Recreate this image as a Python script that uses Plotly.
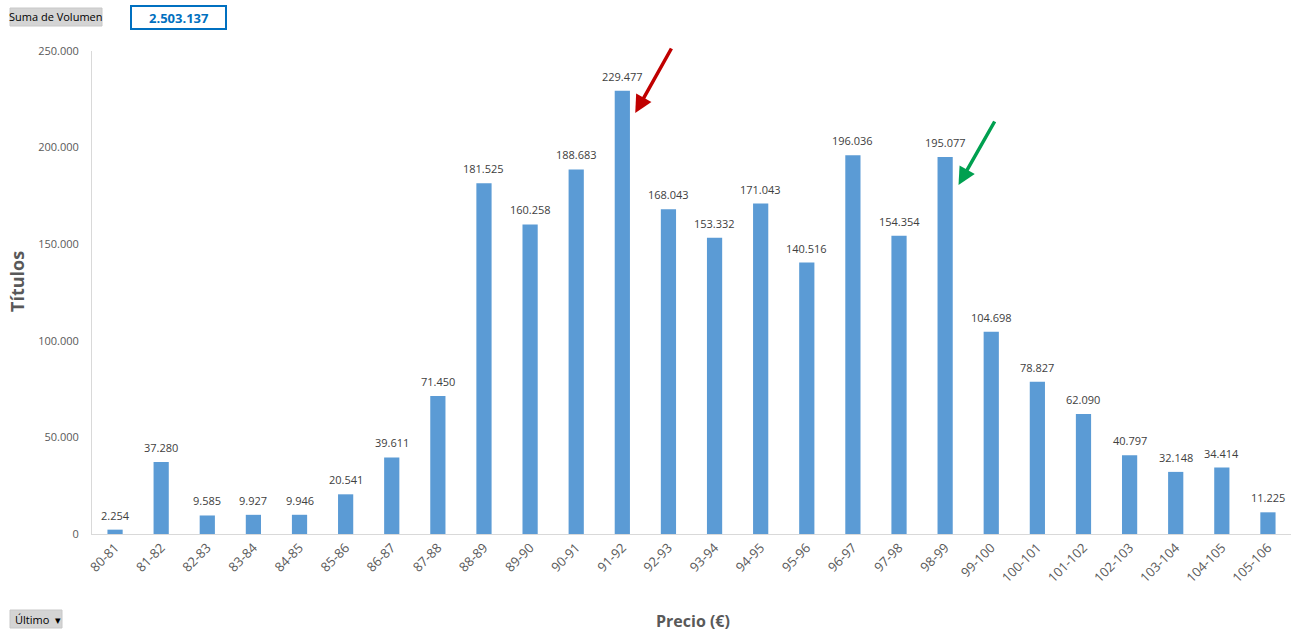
import plotly.graph_objects as go

categories = ["80-81","81-82","82-83","83-84","84-85","85-86","86-87","87-88","88-89","89-90",
              "90-91","91-92","92-93","93-94","94-95","95-96","96-97","97-98","98-99","99-100",
              "100-101","101-102","102-103","103-104","104-105","105-106"]
volumen = [2254,37280,9585,9927,9946,20541,39611,71450,181525,160258,
           188683,229477,168043,153332,171043,140516,196036,154354,195077,104698,
           78827,62090,40797,32148,34414,11225]
y_ticks = [0,50000,100000,150000,200000,250000]
y_tick_labels = ["0","50.000","100.000","150.000","200.000","250.000"]
total_label = "2.503.137"

def fmt(v):
    return f"{v:,}".replace(",", ".")

FONT = "Open Sans, Noto Sans, Arial"

fig = go.Figure()
fig.add_trace(go.Bar(
    x=categories, y=volumen,
    marker=dict(color="#5B9BD5", line=dict(width=0)),
    hoverinfo="x+y",
))

for c, v in zip(categories, volumen):
    fig.add_annotation(x=c, y=v, xref="x", yref="y", text=fmt(v), showarrow=False,
                       yanchor="bottom", yshift=5,
                       font=dict(family=FONT, size=11, color="#404040"))

W, H = 1302, 636
L, R, T, B = 92, 11, 51, 102

fig.update_layout(
    width=W, height=H,
    margin=dict(l=L, r=R, t=T, b=B, autoexpand=False),
    plot_bgcolor="white", paper_bgcolor="white",
    bargap=0.67,
    showlegend=False,
    font=dict(family=FONT, color="#595959"),
    xaxis=dict(
        type="category", tickangle=-45, showgrid=False, automargin=False,
        range=[-0.5, len(categories) - 0.5],
        showline=True, linecolor="#D9D9D9", linewidth=1,
        ticks="", tickfont=dict(size=13, color="#595959"),
    ),
    yaxis=dict(
        range=[0, 250000], tickvals=y_ticks, ticktext=y_tick_labels, automargin=False,
        showgrid=False, showline=True, linecolor="#D9D9D9", linewidth=1,
        zeroline=False, ticks="", ticklabelstandoff=10,
        tickfont=dict(size=11, color="#595959"),
    ),
)

# arrows
def yval(py):
    return (534 - py) / 483 * 250000

fig.add_annotation(x=11.28, y=yval(113), xref="x", yref="y", ax=37, ay=-66,
                   showarrow=True, arrowhead=2, arrowsize=1, arrowwidth=3.5,
                   arrowcolor="#C00000", text="")
fig.add_annotation(x=18.29, y=yval(185), xref="x", yref="y", ax=37, ay=-65,
                   showarrow=True, arrowhead=2, arrowsize=1, arrowwidth=3.5,
                   arrowcolor="#00A050", text="")

def px(x): return (x - L) / (W - L - R)
def py(y): return 1 - (y - T) / (H - T - B)

# axis titles
fig.add_annotation(xref="paper", yref="paper", x=px(693), y=py(621), text="<b>Precio (€)</b>",
                   showarrow=False, font=dict(size=16, color="#595959"), xanchor="center", yanchor="middle")
fig.add_annotation(xref="paper", yref="paper", x=px(17), y=py(282), text="<b>Títulos</b>", textangle=-90,
                   showarrow=False, font=dict(size=18, color="#595959"), xanchor="center", yanchor="middle")

# Buttons
fig.add_shape(type="rect", xref="paper", yref="paper",
              x0=px(10), x1=px(102), y0=py(26), y1=py(8),
              fillcolor="#D4D4D4", line=dict(color="#C8C8C8", width=1))
fig.add_annotation(xref="paper", yref="paper", x=px(56), y=py(17), text="Suma de Volumen",
                   showarrow=False, font=dict(size=11, color="#000000"), xanchor="center", yanchor="middle")
fig.add_shape(type="rect", xref="paper", yref="paper",
              x0=px(131), x1=px(226), y0=py(29), y1=py(6),
              fillcolor="white", line=dict(color="#0070C0", width=2))
fig.add_annotation(xref="paper", yref="paper", x=px(178.5), y=py(17.5), text="<b>" + total_label + "</b>",
                   showarrow=False, font=dict(size=13, color="#0070C0"), xanchor="center", yanchor="middle")
fig.add_shape(type="rect", xref="paper", yref="paper",
              x0=px(10), x1=px(62), y0=py(628), y1=py(610),
              fillcolor="#D4D4D4", line=dict(color="#C8C8C8", width=1))
fig.add_annotation(xref="paper", yref="paper", x=px(13), y=py(619), text="Último  ▾",
                   showarrow=False, font=dict(size=11, color="#000000"), xanchor="left", yanchor="middle")

fig.write_html("out.html")
